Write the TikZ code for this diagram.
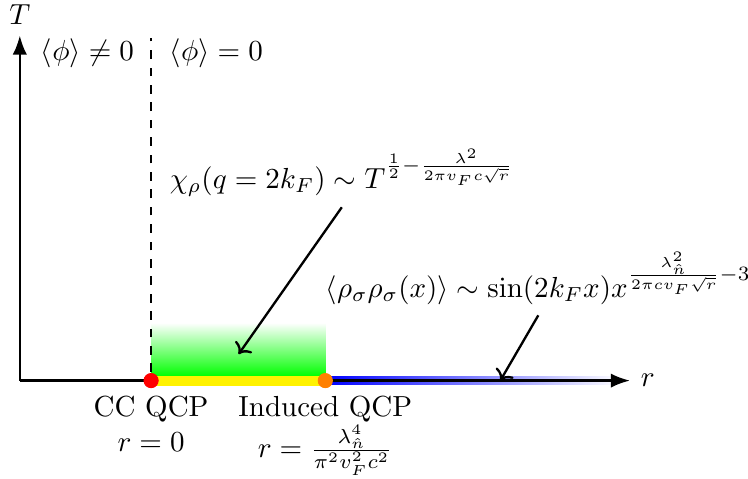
\documentclass[tikz,border=0pt]{standalone}
\usepackage{amsmath, amssymb}
\usepackage{tikz}
\usetikzlibrary{arrows.meta, positioning, calc}

\tikzset{
  qcp/.style={circle, inner sep=0pt, minimum size=5pt},
  plabel/.style={align=center, inner sep=1pt}
}

\begin{document}
\begin{tikzpicture}[thick]
        \useasboundingbox (-0.24,-1.19) rectangle (8.82,4.61);
        % Shaded regions
        \shade [bottom color=green, top color=white] (1.59,0.05) rectangle (3.70,0.70);
        \shade [left color=blue, right color=white] (3.70,-0.05) rectangle (7.27,0.05);
        % Axes
        \coordinate (O) at (0,0);
        \coordinate (rtip) at (7.39,0);
        \coordinate (Ttip) at (0,4.18);
        \draw [-{Latex}] (O) -- (rtip) node[right] (rlab) {$r$};
        \draw [-{Latex}] (O) -- (Ttip) node[above] (Tlab) {$T$};
        % Gapless segment
        \fill [yellow] (1.59,-0.06) rectangle (3.70,0.06);
        % Critical points
        \node [qcp, fill=red] (cc) at (1.59,0) {};
        \node [qcp, fill=orange] (ind) at (3.70,0) {};
        \node [plabel, below=1pt of cc] (cclab) {CC QCP\\ $r=0$};
        \node [plabel, below=1pt of ind] (indlab) {Induced QCP\\ $r=\frac{\lambda_{\hat{n}}^4}{\pi^2 v_F^2 c^2}$};
        % Phase boundary
        \coordinate (dtop) at (1.59,4.15);
        \draw [dashed] (cc) -- (dtop);
        \node (ordered) at (0.82,3.96) {$\langle\phi\rangle \neq 0$};
        \node (disordered) at (2.38,3.96) {$\langle\phi\rangle = 0$};
        % Annotations
        \node (chi) at (3.90,2.52) {$\chi_\rho(q=2k_F) \sim T^{\frac{1}{2}-\frac{\lambda^2}{2\pi v_F c\sqrt{r}}}$};
        \node (rho) at (6.28,1.24) {$\langle\rho_\sigma\rho_\sigma(x)\rangle \sim \sin(2k_F x)x^{\frac{\lambda_{\hat{n}}^2}{2\pi c v_F\sqrt{r}}-3}$};
        \coordinate (chiend) at (2.65,0.32);
        \coordinate (rhoend) at (5.82,0);
        \draw [->] (chi.south) -- (chiend);
        \draw [->] (rho.south) -- (rhoend);
        % Redraw dots on top
        \fill [red] (cc) circle (2.6pt);
        \fill [orange] (ind) circle (2.6pt);
    \end{tikzpicture}
\end{document}
